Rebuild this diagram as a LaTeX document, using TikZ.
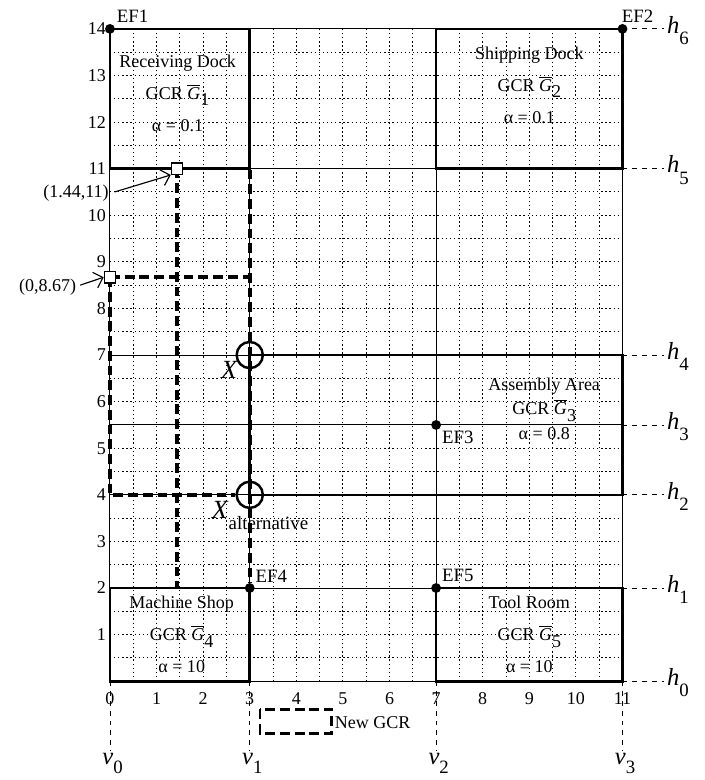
\documentclass[tikz,border=0pt]{standalone}
\usepackage{amsmath}
\usepackage{fontspec}
\setmainfont{Liberation Serif}
\usetikzlibrary{positioning, arrows.meta, calc}

% GCR label with barred G
\newcommand{\gcrName}[1]{GCR $\overline{\text{\itshape G}}$\raisebox{-0.8ex}{#1}}
% Italic letter with a large, low subscript
\newcommand{\lowSub}[3][7pt]{\textit{#2}\raisebox{-#1}{\fontsize{11.5}{13}\selectfont #3}}

\begin{document}
\begin{tikzpicture}[
    font=\fontsize{11}{13}\selectfont,
    gridline/.style={line width=0.6pt, dash pattern=on 0.8pt off 1.7pt},
    levelline/.style={line width=0.6pt},
    dept/.style={line width=1.6pt},
    route/.style={line width=2.2pt, dash pattern=on 6pt off 3pt},
    extline/.style={line width=0.5pt, dashed},
    facility/.style={circle, fill, inner sep=0pt, minimum size=6pt},
    entry/.style={draw, line width=0.7pt, fill=white, inner sep=0pt, minimum size=7pt},
    candidate/.style={circle, draw, line width=1.5pt, inner sep=0pt, minimum size=16pt},
    deptlabel/.style={align=center, font=\fontsize{11}{19.5}\selectfont},
    eflabel/.style={inner sep=0pt, font=\fontsize{11.5}{13}\selectfont},
    levellabel/.style={inner sep=0pt, anchor=base west, font=\fontsize{15}{17}\selectfont},
    pointer/.style={-{Straight Barb[length=5pt]}, line width=0.7pt}
]
\useasboundingbox (-2.36,-2.12) rectangle (12.76,14.62);

% Dotted grid and outer boundary
\draw[gridline] (0,0) grid[step=0.5] (11,14);
\draw[levelline] (0,0) rectangle (11,14);

% Lines at the levels h_i and v_i
\draw[levelline] (0,2) -- (11,2);
\draw[levelline] (0,4) -- (11,4);
\draw[levelline] (0,5.5) -- (11,5.5);
\draw[levelline] (0,7) -- (11,7);
\draw[levelline] (0,11) -- (11,11);
\draw[levelline] (3,0) -- (3,14);
\draw[levelline] (7,0) -- (7,14);

% ==========================================
% Departments
\draw[dept] (0,11) rectangle (3,14);
\draw[dept] (7,11) rectangle (11,14);
\draw[dept] (3,4) rectangle (11,7);
\draw[dept] (0,0) rectangle (3,2);
\draw[dept] (7,0) rectangle (11,2);

\node[deptlabel] (recv) at (1.45,12.62) {Receiving Dock\\\gcrName{1}\\α = 0.1};
\node[deptlabel] (ship) at (9.0,12.79) {Shipping Dock\\\gcrName{2}\\α = 0.1};
\node[deptlabel, font=\fontsize{11}{15}\selectfont] (assy) at (9.32,5.85) {Assembly Area\\\gcrName{3}\\α = 0.8};
\node[deptlabel] (mach) at (1.54,1.0) {Machine Shop\\\gcrName{4}\\α = 10};
\node[deptlabel] (tool) at (9.0,1.0) {Tool Room\\\gcrName{5}\\α = 10};

% ==========================================
% Tick labels
\foreach \y in {1,...,14}
    \node[anchor=east, inner sep=0pt] (ty\y) at (-0.08,\y) {\y};
\foreach \x in {0,...,11}
    \node (tx\x) at (\x,-0.37) {\x};

% ==========================================
% Routes of the new GCR
\coordinate (c1) at (1.44,2);
\coordinate (c2) at (3,11);
\coordinate (c3) at (3,8.67);
\coordinate (c4) at (0,4);
\node[facility] (ef4) at (3,2) {};
\node[candidate] (xalt) at (3,4) {};
\node[candidate] (xopt) at (3,7) {};

\draw[route] (1.44,11) -- (c1);
\draw[route] (1.44,11) -- (c2) -- (ef4);
\draw[route] (0,8.67) -- (c3);
\draw[route] (0,8.67) -- (c4) -- (xalt);

\node[entry] (ent1) at (1.44,11) {};
\node[entry] (ent2) at (0,8.67) {};

\node[anchor=east, inner sep=0pt] (lent1) at (-0.02,10.47) {(1.44,11)};
\node[anchor=east, inner sep=0pt] (lent2) at (-0.72,8.45) {(0,8.67)};
\draw[pointer] (lent1.east) ++(0.12,0.03) coordinate (p1) (p1) -- (ent1.south west);
\draw[pointer] (lent2.east) ++(0.08,0.05) coordinate (p2) (p2) -- (ent2.west);

\node[levellabel, font=\fontsize{16}{18}\selectfont] (lxopt) at (2.38,6.5) {\textit{X}};
\node[levellabel, font=\fontsize{16}{18}\selectfont] (lxalt) at (2.18,3.5) {\lowSub{X}{alternative}};

% ==========================================
% Entry / exit facilities
\node[facility] (ef1) at (0,14) {};
\node[facility] (ef2) at (11,14) {};
\node[facility] (ef3) at (7,5.5) {};
\node[facility] (ef5) at (7,2) {};
\node[eflabel, above right=0.04cm and 0.06cm of ef1] {EF1};
\node[eflabel, above right=0.04cm and -0.1cm of ef2] {EF2};
\node[eflabel, below right=0.04cm and 0.04cm of ef3] {EF3};
\node[eflabel, above right=0.04cm and 0.04cm of ef4] {EF4};
\node[eflabel, above right=0.04cm and 0.04cm of ef5] {EF5};

% ==========================================
% Levels h_0 ... h_6 and v_0 ... v_3
\node[levellabel] (h0) at (11.95,-0.09) {\lowSub{h}{0}};
\node[levellabel] (h1) at (11.95,1.91) {\lowSub{h}{1}};
\node[levellabel] (h2) at (11.95,3.91) {\lowSub{h}{2}};
\node[levellabel] (h3) at (11.95,5.41) {\lowSub{h}{3}};
\node[levellabel] (h4) at (11.95,6.91) {\lowSub{h}{4}};
\node[levellabel] (h5) at (11.95,10.91) {\lowSub{h}{5}};
\node[levellabel] (h6) at (11.95,13.91) {\lowSub{h}{6}};
\foreach \y/\n in {0/0, 2/1, 4/2, 5.5/3, 7/4, 11/5, 14/6}
    \draw[extline] (11,\y) -- (11.9,\y);

\node[levellabel] (v0) at (-0.17,-1.78) {\lowSub[5.5pt]{v}{0}};
\node[levellabel] (v1) at (2.83,-1.78) {\lowSub[5.5pt]{v}{1}};
\node[levellabel] (v2) at (6.83,-1.78) {\lowSub[5.5pt]{v}{2}};
\node[levellabel] (v3) at (10.83,-1.78) {\lowSub[5.5pt]{v}{3}};
\foreach \x/\n in {0/0, 3/1, 7/2, 11/3}
    \draw[extline] (\x,0) -- (\x,-1.5);

% ==========================================
% Legend
\draw[route, line width=1.8pt] (3.22,-0.6) rectangle (4.76,-1.12);
\node[anchor=west, inner sep=0pt] (legend) at (4.82,-0.88) {New GCR};

\end{tikzpicture}
\end{document}
